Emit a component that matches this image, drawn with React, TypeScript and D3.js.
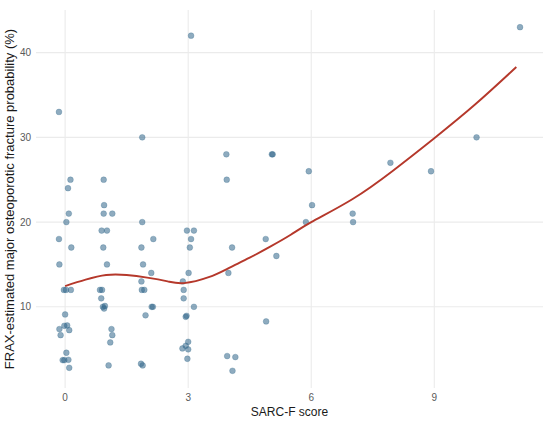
import React, { Component } from 'react';
import * as d3 from 'd3';

// jittered SARC-F score vs FRAX probability
const sarcScores: number[] = [
    -0.15, 0.13, 0.07, 0.09, 0.03, -0.15, 0.15, -0.14, -0.03, 0.02, 0.14, 0.0,
    -0.02, 0.05, -0.14, 0.1, -0.11, 0.03, -0.06, -0.02, 0.08, 0.1,
    0.94, 0.95, 0.94, 1.15, 0.89, 1.02, 0.93, 1.02, 0.85, 0.9, 0.88, 0.92,
    0.97, 0.95, 1.13, 1.15, 1.1, 1.06,
    1.88, 1.88, 2.15, 1.86, 1.9, 2.1, 1.86, 1.87, 1.93, 2.11, 2.14, 1.96,
    1.85, 1.89,
    3.07, 2.97, 3.14, 3.07, 3.04, 3.01, 2.87, 2.89, 2.89, 3.14, 2.94, 2.96,
    3.0, 2.94, 2.86, 3.0, 2.98,
    3.93, 3.94, 4.07, 3.98, 3.95, 4.15, 4.08,
    5.06, 5.04, 4.89, 5.15, 4.9,
    5.94, 6.02, 5.87, 7.01, 7.02, 7.93, 8.92, 10.03, 11.09
];

const fraxValues: number[] = [
    33, 25, 24, 21, 20, 18, 17, 15, 12, 12, 12, 9.1,
    7.76, 7.8, 7.37, 7.25, 6.66, 4.58, 3.71, 3.71, 3.75, 2.8,
    25, 22, 21, 21, 19, 19, 17, 15, 12, 12, 11, 10,
    10.1, 9.8, 7.37, 6.66, 5.8, 3.09,
    30, 20, 18, 17, 15, 14, 13, 12, 12, 10, 10, 9.0,
    3.28, 3.09,
    42, 19, 19, 18, 17, 14, 13, 12, 11, 10, 8.82, 8.94,
    5.87, 5.4, 5.09, 4.98, 3.87,
    28, 25, 17, 14, 4.19, 4.07, 2.45,
    28, 28, 18, 16, 8.28,
    26, 22, 20, 21, 20, 27, 26, 30, 43
];

// smoother read at a few x positions
const smoothX: number[] = [0, 0.5, 1.0, 1.5, 2.0, 2.5, 2.9, 3.5, 4.0, 4.5, 5.0, 5.5, 6.0, 7.0, 8.0, 9.0, 10.0, 11.0];
const smoothY: number[] = [12.45, 13.2, 13.75, 13.75, 13.45, 13.0, 12.8, 13.5, 14.6, 15.8, 17.1, 18.5, 20.0, 22.7, 26.1, 29.9, 33.9, 38.3];

const xTicks: number[] = [0, 3, 6, 9];
const yTicks: number[] = [10, 20, 30, 40];

export default class App extends Component {
    private canvas: any;
    private width: number;
    private height: number;

    constructor(props: any) {
        super(props);
        this.canvas = React.createRef();
        this.width = 550;
        this.height = 421;
    }

    componentDidMount() {
        this.buildChart();
    }

    buildChart = () => {
        const panel = { left: 36, right: 543, top: 10, bottom: 388 };

        const svg = d3.select(this.canvas.current)
            .append('svg')
            .attr('width', this.width)
            .attr('height', this.height)
            .style('display', 'block')
            .style('font-family', '"Liberation Sans", Arial, sans-serif');

        const xScale = d3.scaleLinear()
            .domain([-0.71, 11.65])
            .range([panel.left, panel.right]);

        const yScale = d3.scaleLinear()
            .domain([0.42, 45.03])
            .range([panel.bottom, panel.top]);

        // grid
        svg.selectAll('.hgrid')
            .data(yTicks)
            .enter().append('line')
            .attr('x1', panel.left)
            .attr('x2', panel.right)
            .attr('y1', (d: number) => yScale(d))
            .attr('y2', (d: number) => yScale(d))
            .attr('stroke', '#ebebeb')
            .attr('stroke-width', 1.1);

        svg.selectAll('.vgrid')
            .data(xTicks)
            .enter().append('line')
            .attr('y1', panel.top)
            .attr('y2', panel.bottom)
            .attr('x1', (d: number) => xScale(d))
            .attr('x2', (d: number) => xScale(d))
            .attr('stroke', '#ebebeb')
            .attr('stroke-width', 1.1);

        // points
        const points = sarcScores.map((x, i) => ({ x: x, y: fraxValues[i] }));
        svg.selectAll('.pt')
            .data(points)
            .enter().append('circle')
            .attr('cx', (d: any) => xScale(d.x))
            .attr('cy', (d: any) => yScale(d.y))
            .attr('r', 2.9)
            .attr('fill', '#31668a')
            .attr('fill-opacity', 0.55)
            .attr('stroke', '#31668a')
            .attr('stroke-opacity', 0.3)
            .attr('stroke-width', 0.9);

        // smoother
        const line = d3.line<number>()
            .x((d: number) => xScale(d))
            .y((d: number, i: number) => yScale(smoothY[i]))
            .curve(d3.curveNatural);

        svg.append('path')
            .attr('d', line(smoothX))
            .attr('fill', 'none')
            .attr('stroke', '#b5382b')
            .attr('stroke-width', 1.9);

        // tick labels
        svg.selectAll('.xlab')
            .data(xTicks)
            .enter().append('text')
            .attr('x', (d: number) => xScale(d))
            .attr('y', 401)
            .attr('text-anchor', 'middle')
            .attr('font-size', 10)
            .attr('fill', '#5a5a5a')
            .text((d: number) => d);

        svg.selectAll('.ylab')
            .data(yTicks)
            .enter().append('text')
            .attr('x', 31)
            .attr('y', (d: number) => yScale(d) + 3.5)
            .attr('text-anchor', 'end')
            .attr('font-size', 10)
            .attr('fill', '#5a5a5a')
            .text((d: number) => d);

        // axis titles
        svg.append('text')
            .attr('x', (panel.left + panel.right) / 2)
            .attr('y', 416)
            .attr('text-anchor', 'middle')
            .attr('font-size', 12)
            .attr('fill', '#1a1a1a')
            .text('SARC-F score');

        svg.append('text')
            .attr('transform', 'translate(14,' + (panel.top + panel.bottom) / 2 + ') rotate(-90)')
            .attr('text-anchor', 'middle')
            .attr('font-size', 13)
            .attr('fill', '#1a1a1a')
            .text('FRAX-estimated major osteoporotic fracture probability (%)');
    }

    render() {
        return (
            <div style={{ position: 'absolute', left: 0, top: 0 }}>
                <div className="scatterChart" ref={this.canvas}></div>
            </div>
        )
    }
}
